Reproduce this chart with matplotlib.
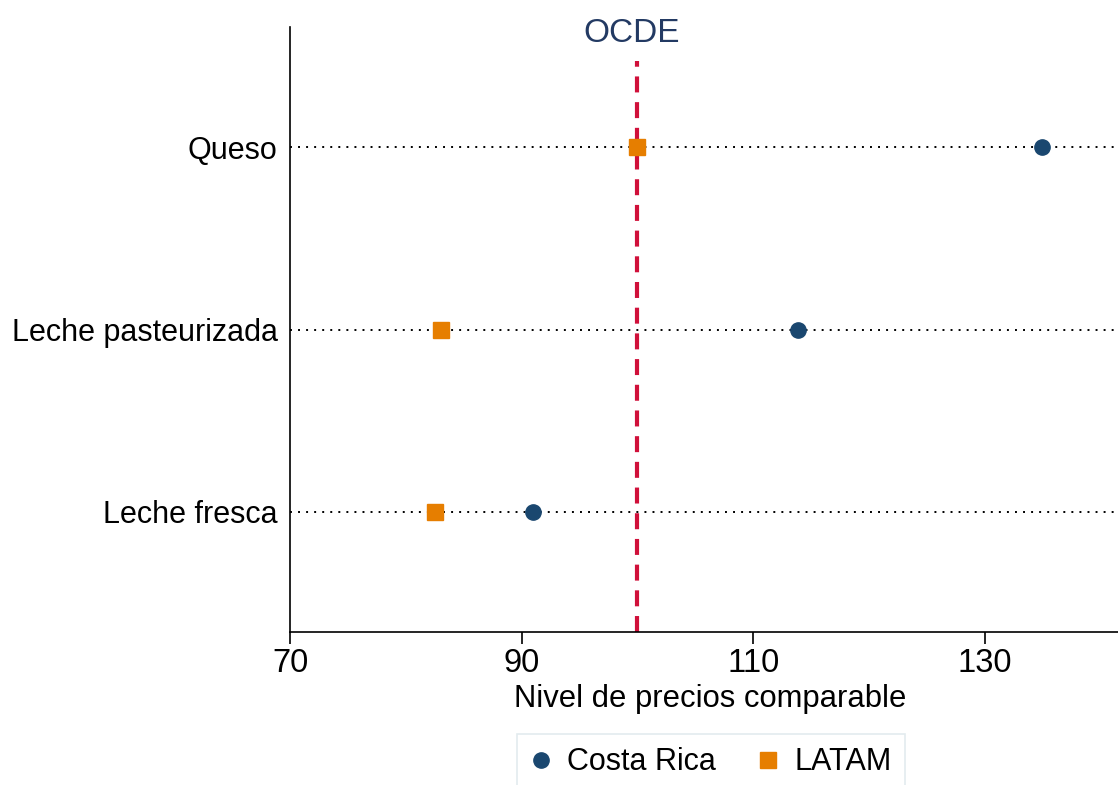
import matplotlib
matplotlib.use('Agg')
import matplotlib.pyplot as plt

plt.rcParams['font.family'] = ['Liberation Sans', 'DejaVu Sans']
plt.rcParams['lines.scale_dashes'] = False

# datos
productos = ['Leche fresca', 'Leche pasteurizada', 'Queso']
costa_rica = [91.0, 113.9, 134.9]
latam = [82.5, 83.0, 100.0]
ocde = 100
xticks = [70, 90, 110, 130]

navy = '#1a476f'
naranja = '#e67e00'
rojo = '#d0103a'

fig = plt.figure(figsize=(11.18, 7.85), dpi=100)
ax = fig.add_axes([0.2594, 0.1949, 0.7406, 0.7707])

ypos = list(range(1, len(productos) + 1))
for y in ypos:
    ax.axhline(y, color='black', lw=1.4, linestyle=(0, (1.4, 4.4)), zorder=1)

ax.axvline(ocde, ymin=0, ymax=0.944, color=rojo, lw=3, linestyle=(0, (11.5, 7)), zorder=2)
ax.text(ocde - 0.5, 0.99, 'OCDE', transform=ax.get_xaxis_transform(), ha='center', va='center',
        fontsize=24, color='#233a63')

ax.plot(costa_rica, ypos, 'o', color=navy, ms=11, ls='none', zorder=3, label='Costa Rica')
ax.plot(latam, ypos, 's', color=naranja, ms=11.5, ls='none', zorder=3, label='LATAM')

ax.set_xlim(70, 141.5)
ax.set_ylim(0.34, 3.66)
ax.set_xticks(xticks)
ax.set_yticks(ypos)
ax.set_yticklabels(productos)
ax.tick_params(axis='x', length=8.5, width=1.2, labelsize=23.5, pad=3)
ax.tick_params(axis='y', length=0, labelsize=22, pad=9)
ax.set_xlabel('Nivel de precios comparable', fontsize=22.3)
ax.xaxis.set_label_coords(0.507, -0.086)
ax.xaxis.label.set_va('top')

for s in ['top', 'right']:
    ax.spines[s].set_visible(False)
for s in ['left', 'bottom']:
    ax.spines[s].set_linewidth(1.2)

leg = fig.legend(loc='upper center', bbox_to_anchor=(0.636, 0.085), ncol=2, fontsize=22,
                 frameon=True, fancybox=False, edgecolor='#dce6ea', borderpad=0.45,
                 handletextpad=0.5, columnspacing=1.35, handlelength=0.7)
leg.get_frame().set_linewidth(1.2)

fig.savefig('out.png', dpi=100)
